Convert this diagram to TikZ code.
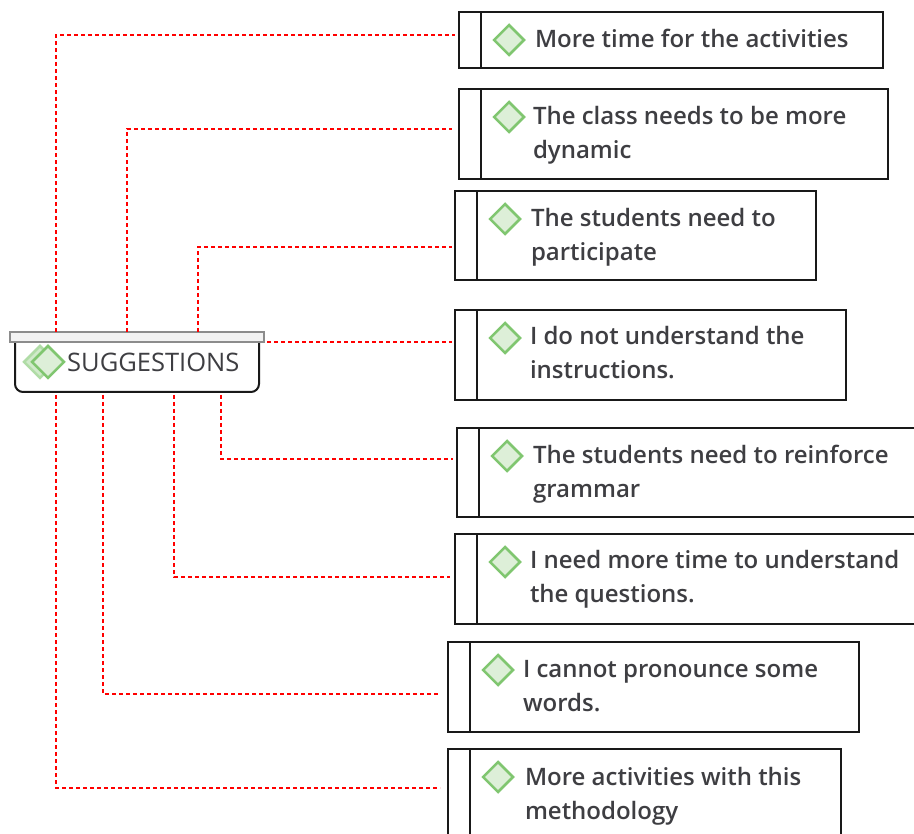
\documentclass[tikz,border=0pt]{standalone}
\usepackage{fontspec}
\setmainfont{Open Sans}
\IfFontExistsTF{Open Sans Semibold}{\newfontfamily\semib{Open Sans Semibold}}{%
  \IfFontExistsTF{Open Sans SemiBold}{\newfontfamily\semib{Open Sans SemiBold}}{%
    \newfontfamily\semib{Open Sans Bold}}}
\usetikzlibrary{calc,shapes.geometric}
\definecolor{txtgray}{RGB}{62,62,66}
\definecolor{icongreen}{RGB}{128,198,112}
\definecolor{iconfill}{RGB}{221,239,216}
\definecolor{iconback}{RGB}{176,220,166}
\definecolor{bargray}{RGB}{140,140,140}
\definecolor{barfill}{RGB}{242,242,242}
\tikzset{
  itembox/.style={draw=black!90, line width=2pt, rectangle, inner sep=0pt, outer sep=0pt, anchor=north west},
  divider/.style={draw=black!90, line width=2pt},
  itemtxt/.style={inner sep=0pt, outer sep=0pt, anchor=north west, align=left, text=txtgray,
    font=\semib\fontsize{24}{34}\selectfont},
  dia/.style={diamond, aspect=1, draw=icongreen, fill=iconfill, line width=2.5pt, inner sep=0pt,
    minimum width=31pt, minimum height=31pt},
  conn/.style={draw=red, line width=2.2pt, dash pattern=on 4pt off 3pt},
}
\newcommand{\mystrut}{\rule{0pt}{20pt}}
\begin{document}
\begin{tikzpicture}[x=1pt,y=-1pt]
\useasboundingbox (0,0) rectangle (914,834);
% central node
\node[inner sep=0pt, outer sep=0pt, minimum width=244pt, minimum height=50pt, anchor=north west] (sugg) at (15,342) {};
\draw[black!90, line width=2pt, fill=white, rounded corners=8pt]
  (sugg.north west) -- (sugg.south west) -- (sugg.south east) -- (sugg.north east);
\node[draw=bargray, fill=barfill, line width=1.5pt, inner sep=0pt, outer sep=0pt, minimum width=254pt, minimum height=10pt, anchor=north west] (bar) at (10,332) {};
\node[dia, draw=iconback, fill=iconback!60, minimum width=33pt, minimum height=33pt] (sd1) at (40,362) {};
\node[dia, minimum width=33pt, minimum height=33pt] (sd2) at (48,362) {};
\node[anchor=base west, inner sep=0pt, text=txtgray, font=\fontsize{25.5}{28}\selectfont] (st) at (67,372) {SUGGESTIONS};

% item boxes
\node[itembox, minimum width=424pt, minimum height=56pt] (b1) at (459,12) {};
\node[itembox, minimum width=429pt, minimum height=90pt] (b2) at (459,89) {};
\node[itembox, minimum width=361pt, minimum height=89pt] (b3) at (455,191) {};
\node[itembox, minimum width=391pt, minimum height=90pt] (b4) at (455,310) {};
\node[itembox, minimum width=462pt, minimum height=89pt] (b5) at (457,428) {};
\node[itembox, minimum width=464pt, minimum height=90pt] (b6) at (455,534) {};
\node[itembox, minimum width=411pt, minimum height=90pt] (b7) at (448,642) {};
\node[itembox, minimum width=393pt, minimum height=95pt] (b8) at (448,749) {};

\foreach \b in {b1,b2,b3,b4,b5,b6,b7,b8}{
  \draw[divider] ($(\b.north west)+(21.5,0)$) -- ($(\b.south west)+(21.5,0)$);
  \node[dia] (\b d) at ($(\b.north west)+(50,28)$) {};
}

\node[itemtxt] (t1) at ($(b1.north west)+(76,16)$) {\mystrut More time for the activities};
\node[itemtxt] (t2) at ($(b2.north west)+(74,16)$) {\mystrut The class needs to be more\\dynamic};
\node[itemtxt] (t3) at ($(b3.north west)+(76,16)$) {\mystrut The students need to\\participate};
\node[itemtxt] (t4) at ($(b4.north west)+(75,15)$) {\mystrut I do not understand the\\instructions.};
\node[itemtxt] (t5) at ($(b5.north west)+(76,15)$) {\mystrut The students need to reinforce\\grammar};
\node[itemtxt] (t6) at ($(b6.north west)+(75,14)$) {\mystrut I need more time to understand\\the questions.};
\node[itemtxt] (t7) at ($(b7.north west)+(75,15)$) {\mystrut I cannot pronounce some\\words.};
\node[itemtxt] (t8) at ($(b8.north west)+(77,16)$) {\mystrut More activities with this\\methodology};

% connectors
\draw[conn] ($(bar.north west)+(46,0)$) |- ($(b1.north west)+(-4,23)$);
\draw[conn] ($(bar.north west)+(117,0)$) |- ($(b2.north west)+(-7,40)$);
\draw[conn] ($(bar.north west)+(188,0)$) |- ($(b3.north west)+(-3,56)$);
\draw[conn] ($(bar.south east)+(3,0)$) -- ($(b4.north west)+(-3,32)$);
\draw[conn] ($(sugg.south west)+(206,3)$) |- ($(b5.north west)+(-4,31)$);
\draw[conn] ($(sugg.south west)+(159,3)$) |- ($(b6.north west)+(-5,43)$);
\draw[conn] ($(sugg.south west)+(88,3)$) |- ($(b7.north west)+(-8,52)$);
\draw[conn] ($(sugg.south west)+(41,3)$) |- ($(b8.north west)+(-8,39)$);
\end{tikzpicture}
\end{document}
